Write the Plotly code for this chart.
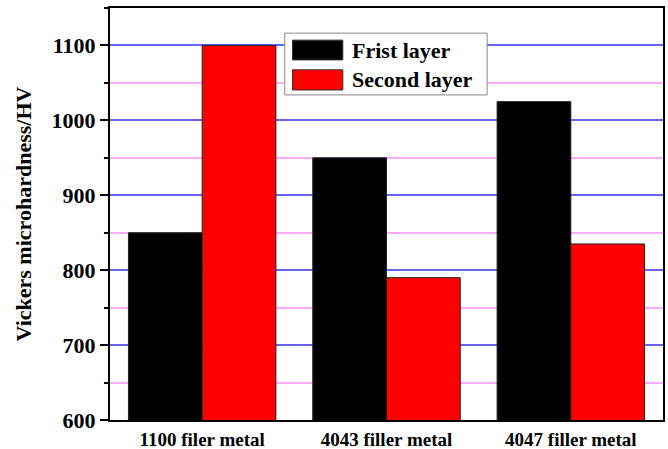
import plotly.graph_objects as go

# Microhardness of the deposited layers for each filler metal
categories = ["1100 filer metal", "4043 filler metal", "4047 filler metal"]
first_layer = [850, 950, 1025]
second_layer = [1100, 790, 835]
series_names = ["Frist layer", "Second layer"]
series_colors = ["#000000", "#ff0000"]

FONT = "Liberation Serif, Times New Roman, serif"

fig = go.Figure()
for name, vals, col in zip(series_names, [first_layer, second_layer], series_colors):
    fig.add_trace(go.Bar(
        x=categories, y=vals, name=name,
        marker=dict(color=col, line=dict(color="#222222", width=1)),
        showlegend=False,
    ))

fig.update_layout(
    width=668, height=449,
    margin=dict(l=110, r=5, t=8, b=29),
    paper_bgcolor="white", plot_bgcolor="white",
    barmode="group", bargap=0.2, bargroupgap=0,
    font=dict(family=FONT, color="black", size=18, weight="bold"),
    xaxis=dict(
        showline=True, linecolor="black", linewidth=2, mirror=True,
        ticks="", tickfont=dict(size=19, family=FONT, weight="bold"),
        ticklabelstandoff=1, automargin=False,
        showgrid=False, range=[-0.5, 2.5],
    ),
    yaxis=dict(
        range=[600, 1150], tick0=600, dtick=100, automargin=False,
        showline=True, linecolor="black", linewidth=2, mirror=True,
        ticks="outside", ticklen=8, tickwidth=2, tickcolor="black",
        tickfont=dict(size=22, family=FONT, weight="bold"),
        showgrid=True, gridcolor="#6464f0", gridwidth=1.5,
        zeroline=False,
        minor=dict(dtick=50, tick0=650, ticks="outside", ticklen=4, tickwidth=2,
                   tickcolor="black", showgrid=True, gridcolor="#ffaaff", gridwidth=1.5),
        title=dict(text="Vickers microhardness/HV", standoff=14,
                   font=dict(size=22, family=FONT, weight="bold")),
    ),
)

# Legend box with large swatches
x0, x1 = 0.316, 0.682
y0, y1 = 0.789, 0.939
fig.add_shape(type="rect", xref="paper", yref="paper", x0=x0, x1=x1, y0=y0, y1=y1,
              line=dict(color="#888888", width=1), fillcolor="white", layer="above")
sw_x0, sw_x1 = 0.330, 0.421
sw_rows = [(0.874, 0.922), (0.801, 0.850)]
for (ya, yb), name, col in zip(sw_rows, series_names, series_colors):
    fig.add_shape(type="rect", xref="paper", yref="paper", x0=sw_x0, x1=sw_x1, y0=ya, y1=yb,
                  line=dict(color="#333333", width=1), fillcolor=col, layer="above")
    fig.add_annotation(xref="paper", yref="paper", x=0.434, y=(ya + yb) / 2,
                       text=name, showarrow=False, xanchor="left", yanchor="middle",
                       font=dict(size=22, family=FONT, weight="bold", color="black"))

fig.write_html("out.html")
